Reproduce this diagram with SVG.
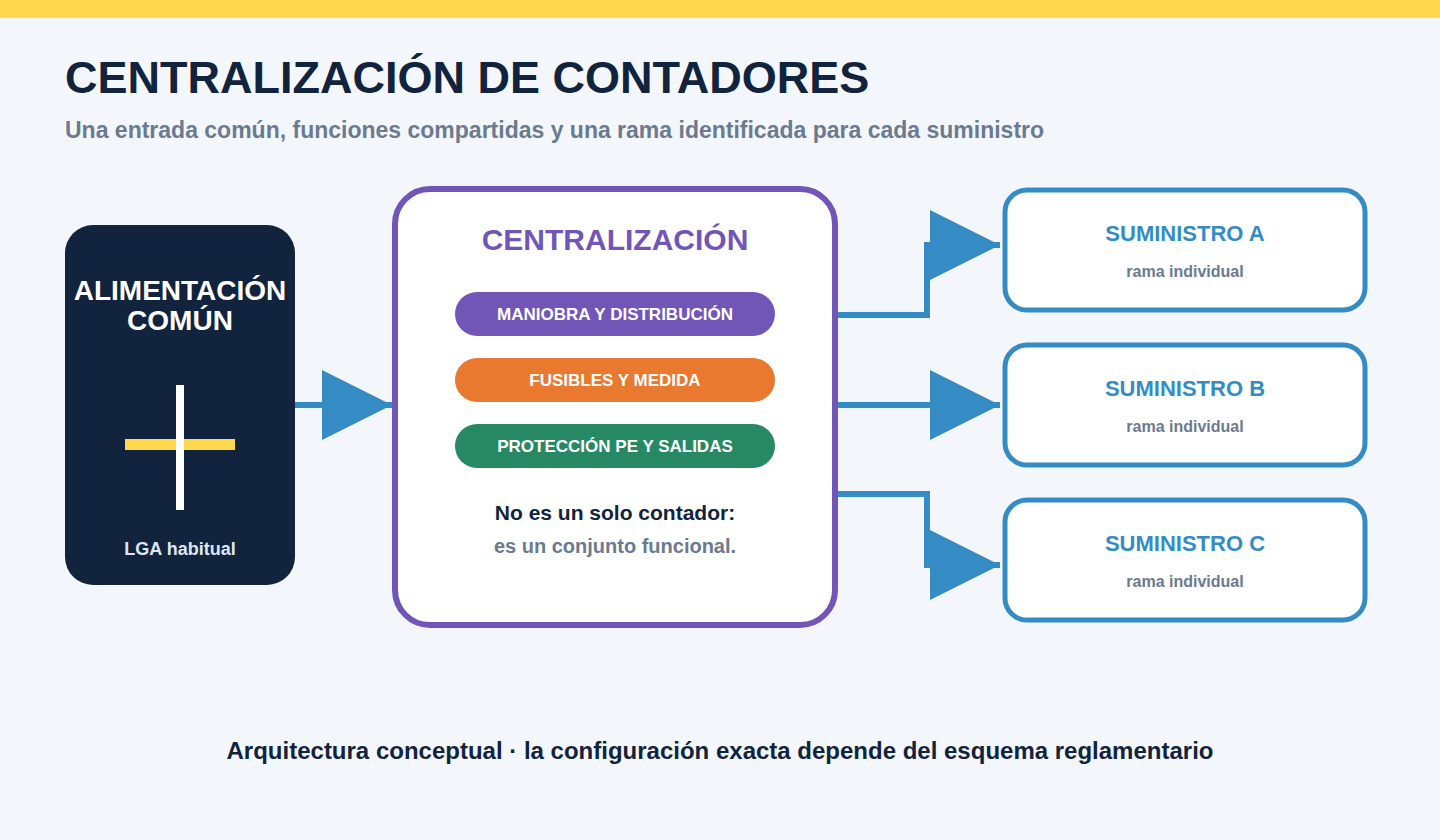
<svg xmlns="http://www.w3.org/2000/svg" width="1440" height="840" viewBox="0 0 1440 840">
<style>
text{font-family:"Liberation Sans",Arial,sans-serif;font-weight:bold}
.c{text-anchor:middle}
.pill{fill:#fff;font-size:17px;text-anchor:middle}
.sup{fill:#fff;stroke:#358CC5;stroke-width:5}
.st{fill:#358CC5;font-size:22px;text-anchor:middle}
.ss{fill:#6B7A90;font-size:16px;text-anchor:middle}
.conn{fill:none;stroke:#358CC5;stroke-width:6;marker-end:url(#ah)}
</style>
<defs>
<marker id="ah" markerUnits="userSpaceOnUse" markerWidth="70" markerHeight="70" viewBox="0 0 70 70" refX="70" refY="35" orient="auto">
<path d="M0,0 L70,35 L0,70 z" fill="#358CC5"/>
</marker>
</defs>
<rect x="0" y="0" width="1440" height="840" fill="#F3F7FC"/>
<rect x="0" y="0" width="1440" height="18" fill="#FFD84D"/>
<text x="65" y="93" font-size="45" fill="#12233D">CENTRALIZACIÓN DE CONTADORES</text>
<text x="65" y="138" font-size="23" fill="#6B7A90">Una entrada común, funciones compartidas y una rama identificada para cada suministro</text>

<g id="connectors">
<path class="conn" d="M295,405 H392"/>
<path class="conn" d="M835,315 H927 V245 H1000"/>
<path class="conn" d="M835,405 H1000"/>
<path class="conn" d="M835,494 H927 V565 H1000"/>
</g>

<g id="alimentacion">
<rect x="65" y="225" width="230" height="360" rx="28" fill="#12233D"/>
<text class="c" x="180" y="300" font-size="28" fill="#fff">ALIMENTACIÓN</text>
<text class="c" x="180" y="330" font-size="28" fill="#fff">COMÚN</text>
<rect x="125" y="439" width="110" height="11" fill="#FFD84D"/>
<rect x="176" y="385" width="8" height="125" fill="#fff"/>
<text class="c" x="180" y="555" font-size="18" fill="#DCE8F6">LGA habitual</text>
</g>

<g id="centralizacion">
<rect x="395" y="189" width="440" height="436" rx="35" fill="#fff" stroke="#7156B8" stroke-width="6"/>
<text class="c" x="615" y="250" font-size="30" fill="#7156B8">CENTRALIZACIÓN</text>
<rect x="455" y="292" width="320" height="44" rx="22" fill="#7156B8"/>
<text class="pill" x="615" y="320">MANIOBRA Y DISTRIBUCIÓN</text>
<rect x="455" y="358" width="320" height="44" rx="22" fill="#E8792F"/>
<text class="pill" x="615" y="386">FUSIBLES Y MEDIDA</text>
<rect x="455" y="424" width="320" height="44" rx="22" fill="#268963"/>
<text class="pill" x="615" y="452">PROTECCIÓN PE Y SALIDAS</text>
<text class="c" x="615" y="520" font-size="21" fill="#12233D">No es un solo contador:</text>
<text class="c" x="615" y="553" font-size="20" fill="#6B7A90">es un conjunto funcional.</text>
</g>

<g id="suministro-a">
<rect class="sup" x="1005" y="190" width="360" height="120" rx="22"/>
<text class="st" x="1185" y="241">SUMINISTRO A</text>
<text class="ss" x="1185" y="277">rama individual</text>
</g>
<g id="suministro-b">
<rect class="sup" x="1005" y="345" width="360" height="120" rx="22"/>
<text class="st" x="1185" y="396">SUMINISTRO B</text>
<text class="ss" x="1185" y="432">rama individual</text>
</g>
<g id="suministro-c">
<rect class="sup" x="1005" y="500" width="360" height="120" rx="22"/>
<text class="st" x="1185" y="551">SUMINISTRO C</text>
<text class="ss" x="1185" y="587">rama individual</text>
</g>

<text class="c" x="720" y="759" font-size="24" fill="#12233D">Arquitectura conceptual · la configuración exacta depende del esquema reglamentario</text>
</svg>
